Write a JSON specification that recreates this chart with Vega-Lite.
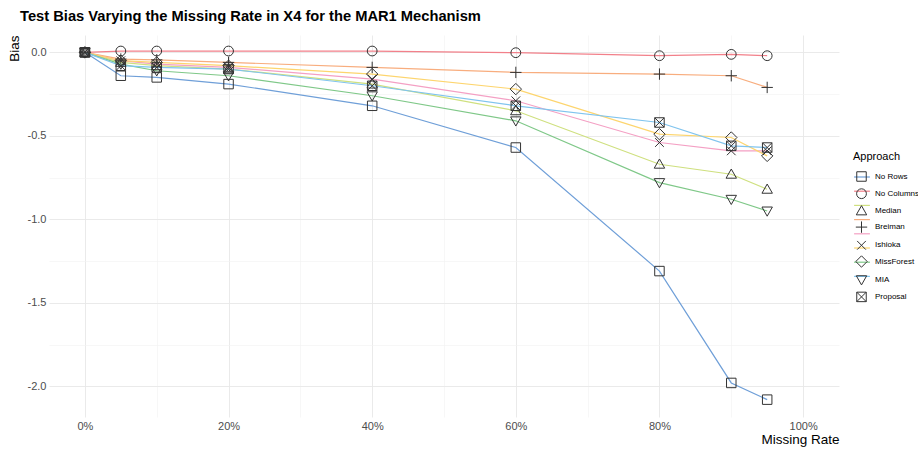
{
  "$schema": "https://vega.github.io/schema/vega-lite/v6.json",
  "width": 790,
  "height": 382,
  "autosize": {"type": "none"},
  "padding": {"left": 49, "top": 35, "right": 79, "bottom": 33},
  "background": "white",
  "title": {
    "text": "Test Bias Varying the Missing Rate in X4 for the MAR1 Mechanism",
    "anchor": "start",
    "frame": "group",
    "dx": -29,
    "offset": 11,
    "font": "Liberation Sans",
    "fontSize": 14.7,
    "fontWeight": "bold",
    "color": "#000000"
  },
  "config": {
    "view": {"stroke": null},
    "axis": {"domain": false, "ticks": false, "labelFont": "Liberation Sans", "titleFont": "Liberation Sans", "labelColor": "#4d4d4d", "labelFontSize": 11, "titleFontSize": 13.5, "titleFontWeight": "normal", "titleColor": "#000000"},
    "legend": {"labelFont": "Liberation Sans", "titleFont": "Liberation Sans"}
  },
  "data": {
    "values": [
      {"rate": 0, "approach": "No Rows", "bias": 0},
      {"rate": 0.05, "approach": "No Rows", "bias": -0.14},
      {"rate": 0.10, "approach": "No Rows", "bias": -0.15},
      {"rate": 0.20, "approach": "No Rows", "bias": -0.19},
      {"rate": 0.40, "approach": "No Rows", "bias": -0.32},
      {"rate": 0.60, "approach": "No Rows", "bias": -0.57},
      {"rate": 0.80, "approach": "No Rows", "bias": -1.31},
      {"rate": 0.90, "approach": "No Rows", "bias": -1.98},
      {"rate": 0.95, "approach": "No Rows", "bias": -2.08},
      {"rate": 0, "approach": "No Columns", "bias": 0},
      {"rate": 0.05, "approach": "No Columns", "bias": 0.008},
      {"rate": 0.10, "approach": "No Columns", "bias": 0.008},
      {"rate": 0.20, "approach": "No Columns", "bias": 0.008},
      {"rate": 0.40, "approach": "No Columns", "bias": 0.008},
      {"rate": 0.60, "approach": "No Columns", "bias": -0.002},
      {"rate": 0.80, "approach": "No Columns", "bias": -0.02},
      {"rate": 0.90, "approach": "No Columns", "bias": -0.012},
      {"rate": 0.95, "approach": "No Columns", "bias": -0.02},
      {"rate": 0, "approach": "Median", "bias": 0},
      {"rate": 0.05, "approach": "Median", "bias": -0.06},
      {"rate": 0.10, "approach": "Median", "bias": -0.08},
      {"rate": 0.20, "approach": "Median", "bias": -0.10},
      {"rate": 0.40, "approach": "Median", "bias": -0.19},
      {"rate": 0.60, "approach": "Median", "bias": -0.35},
      {"rate": 0.80, "approach": "Median", "bias": -0.67},
      {"rate": 0.90, "approach": "Median", "bias": -0.73},
      {"rate": 0.95, "approach": "Median", "bias": -0.82},
      {"rate": 0, "approach": "Breiman", "bias": 0},
      {"rate": 0.05, "approach": "Breiman", "bias": -0.04},
      {"rate": 0.10, "approach": "Breiman", "bias": -0.045},
      {"rate": 0.20, "approach": "Breiman", "bias": -0.06},
      {"rate": 0.40, "approach": "Breiman", "bias": -0.09},
      {"rate": 0.60, "approach": "Breiman", "bias": -0.12},
      {"rate": 0.80, "approach": "Breiman", "bias": -0.13},
      {"rate": 0.90, "approach": "Breiman", "bias": -0.14},
      {"rate": 0.95, "approach": "Breiman", "bias": -0.21},
      {"rate": 0, "approach": "Ishioka", "bias": 0},
      {"rate": 0.05, "approach": "Ishioka", "bias": -0.05},
      {"rate": 0.10, "approach": "Ishioka", "bias": -0.07},
      {"rate": 0.20, "approach": "Ishioka", "bias": -0.09},
      {"rate": 0.40, "approach": "Ishioka", "bias": -0.16},
      {"rate": 0.60, "approach": "Ishioka", "bias": -0.29},
      {"rate": 0.80, "approach": "Ishioka", "bias": -0.54},
      {"rate": 0.90, "approach": "Ishioka", "bias": -0.59},
      {"rate": 0.95, "approach": "Ishioka", "bias": -0.59},
      {"rate": 0, "approach": "MissForest", "bias": 0},
      {"rate": 0.05, "approach": "MissForest", "bias": -0.05},
      {"rate": 0.10, "approach": "MissForest", "bias": -0.06},
      {"rate": 0.20, "approach": "MissForest", "bias": -0.08},
      {"rate": 0.40, "approach": "MissForest", "bias": -0.13},
      {"rate": 0.60, "approach": "MissForest", "bias": -0.22},
      {"rate": 0.80, "approach": "MissForest", "bias": -0.49},
      {"rate": 0.90, "approach": "MissForest", "bias": -0.51},
      {"rate": 0.95, "approach": "MissForest", "bias": -0.62},
      {"rate": 0, "approach": "MIA", "bias": 0},
      {"rate": 0.05, "approach": "MIA", "bias": -0.07},
      {"rate": 0.10, "approach": "MIA", "bias": -0.11},
      {"rate": 0.20, "approach": "MIA", "bias": -0.14},
      {"rate": 0.40, "approach": "MIA", "bias": -0.26},
      {"rate": 0.60, "approach": "MIA", "bias": -0.41},
      {"rate": 0.80, "approach": "MIA", "bias": -0.78},
      {"rate": 0.90, "approach": "MIA", "bias": -0.88},
      {"rate": 0.95, "approach": "MIA", "bias": -0.95},
      {"rate": 0, "approach": "Proposal", "bias": 0},
      {"rate": 0.05, "approach": "Proposal", "bias": -0.08},
      {"rate": 0.10, "approach": "Proposal", "bias": -0.09},
      {"rate": 0.20, "approach": "Proposal", "bias": -0.10},
      {"rate": 0.40, "approach": "Proposal", "bias": -0.20},
      {"rate": 0.60, "approach": "Proposal", "bias": -0.32},
      {"rate": 0.80, "approach": "Proposal", "bias": -0.42},
      {"rate": 0.90, "approach": "Proposal", "bias": -0.56},
      {"rate": 0.95, "approach": "Proposal", "bias": -0.57}
    ]
  },
  "encoding": {
    "x": {
      "field": "rate",
      "type": "quantitative",
      "scale": {"domain": [-0.05, 1.05], "nice": false, "zero": false},
      "axis": {
        "title": "Missing Rate",
        "titleAnchor": "end",
        "titlePadding": 1,
        "values": [0, 0.1, 0.2, 0.3, 0.4, 0.5, 0.6, 0.7, 0.8, 0.9, 1.0],
        "labelExpr": "round(datum.value*100) % 20 == 0 ? format(datum.value, '.0%') : ''",
        "labelPadding": 3,
        "grid": true,
        "gridColor": {"condition": {"test": "round(datum.value*100) % 20 == 0", "value": "#e8e8e8"}, "value": "#f2f2f2"},
        "gridWidth": {"condition": {"test": "round(datum.value*100) % 20 == 0", "value": 0.9}, "value": 0.6}
      }
    },
    "y": {
      "field": "bias",
      "type": "quantitative",
      "scale": {"domain": [-2.184, 0.104], "nice": false, "zero": false},
      "axis": {
        "title": "Bias",
        "titleAnchor": "end",
        "titlePadding": 6,
        "values": [-2.0, -1.75, -1.5, -1.25, -1.0, -0.75, -0.5, -0.25, 0.0],
        "labelExpr": "abs(round(datum.value*100)) % 50 == 0 ? replace(format(datum.value, '.1f'), '\u2212', '-') : ''",
        "labelPadding": 3,
        "grid": true,
        "gridColor": {"condition": {"test": "abs(round(datum.value*100)) % 50 == 0", "value": "#e8e8e8"}, "value": "#f2f2f2"},
        "gridWidth": {"condition": {"test": "abs(round(datum.value*100)) % 50 == 0", "value": 0.9}, "value": 0.6}
      }
    }
  },
  "layer": [
    {
      "mark": {"type": "line", "strokeWidth": 1.2},
      "encoding": {
        "color": {
          "field": "approach",
          "type": "nominal",
          "scale": {
            "domain": ["No Rows", "No Columns", "Median", "Breiman", "Ishioka", "MissForest", "MIA", "Proposal"],
            "range": ["#6f9fd8", "#f2808a", "#cfe07f", "#f8ad7e", "#f4a0c4", "#fdd56e", "#7fc888", "#80c4ee"]
          },
          "legend": {
            "title": null,
            "orient": "none",
            "legendX": 804,
            "legendY": 133,
            "symbolType": "stroke",
            "symbolSize": 250,
            "symbolStrokeWidth": 1.2,
            "labelExpr": "''",
            "labelFontSize": 8,
            "labelOffset": 5,
            "rowPadding": 1.2
          }
        }
      }
    },
    {
      "mark": {"type": "point", "filled": false, "stroke": "#333333", "strokeWidth": 1, "size": 250, "opacity": 1},
      "encoding": {
        "shape": {
          "field": "approach",
          "type": "nominal",
          "sort": ["No Rows", "No Columns", "Median", "Breiman", "Ishioka", "MissForest", "MIA", "Proposal"],
          "scale": {
            "range": [
              "M-0.6,-0.6H0.6V0.6H-0.6Z",
              "M0.62,0A0.62,0.62,0,1,1,-0.62,0A0.62,0.62,0,1,1,0.62,0Z",
              "M0,-0.66L0.66,0.5H-0.66Z",
              "M-0.72,0H0.72M0,-0.72V0.72",
              "M-0.55,-0.55L0.55,0.55M-0.55,0.55L0.55,-0.55",
              "M0,-0.72L0.72,0L0,0.72L-0.72,0Z",
              "M0,0.66L0.66,-0.5H-0.66Z",
              "M-0.6,-0.6H0.6V0.6H-0.6ZM-0.6,-0.6L0.6,0.6M-0.6,0.6L0.6,-0.6"
            ]
          },
          "legend": {
            "title": "Approach",
            "orient": "none",
            "legendX": 804,
            "legendY": 116,
            "titleFontSize": 11,
            "titleFontWeight": "normal",
            "titleColor": "#000000",
            "labelFontSize": 8,
            "labelColor": "#000000",
            "labelOffset": 5,
            "symbolSize": 250,
            "symbolStrokeColor": "#333333",
            "symbolStrokeWidth": 1,
            "symbolFillColor": "transparent",
            "rowPadding": 1.2,
            "titlePadding": 6
          }
        }
      }
    }
  ]
}
